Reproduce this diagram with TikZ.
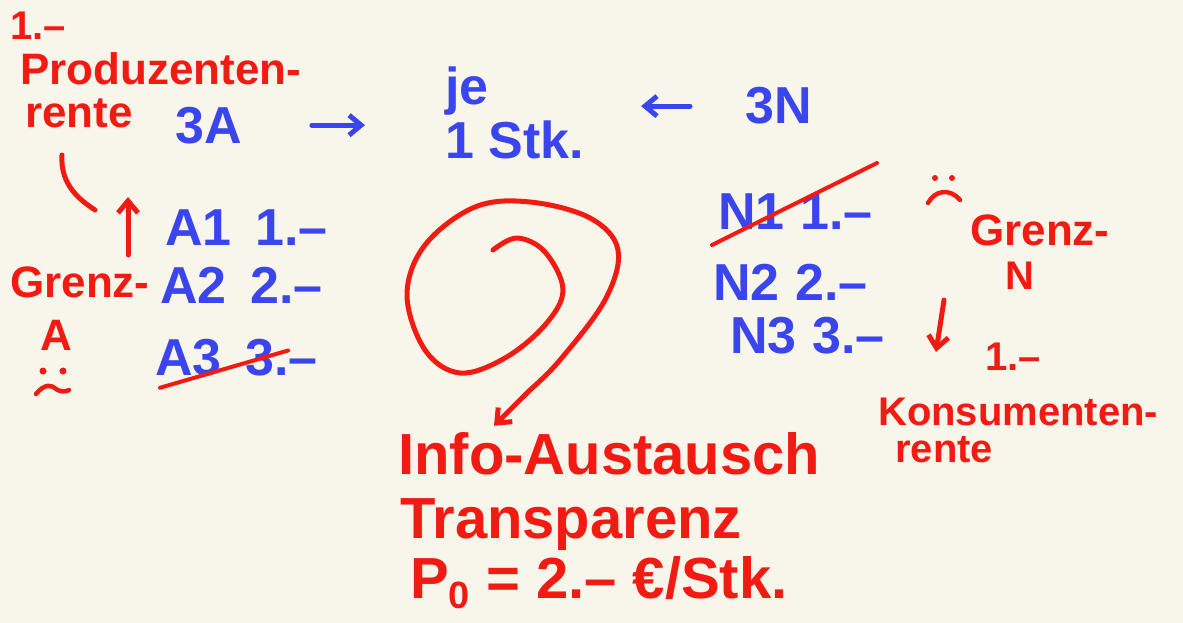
\documentclass[tikz,border=0pt]{standalone}
\usepackage{fontspec}
\setmainfont{Liberation Sans}
\usetikzlibrary{arrows.meta,calc}
\definecolor{bg}{HTML}{F8F5EA}
\definecolor{pen}{HTML}{3A45EE}
\definecolor{ink}{HTML}{F21B14}
\begin{document}
\begin{tikzpicture}[x=1pt,y=-1pt,
  redtxt/.style={text=ink, font=\bfseries\fontsize{44}{46}\selectfont, inner sep=0pt, anchor=base west},
  bigred/.style={redtxt, font=\bfseries\fontsize{58}{60}\selectfont},
  bluetxt/.style={text=pen, font=\bfseries\fontsize{52}{54}\selectfont, inner sep=0pt, anchor=base west},
  redline/.style={draw=ink, line width=5pt, line cap=round, line join=round},
  blueline/.style={draw=pen, line width=5pt, line cap=round, line join=round},
  tip/.style={-{Straight Barb[length=12pt,width=20pt,line width=5pt]}}]
\fill[bg] (0,0) rectangle (1183,623);
\useasboundingbox (0,0) rectangle (1183,623);

% producer side
\node[redtxt, font=\bfseries\fontsize{40}{42}\selectfont] (pone) at (10,40) {1.–};
\node[redtxt] (prod) at (20,85) {Produzenten-};
\node[redtxt] (prente) at (25,128) {rente};
\node[bluetxt] (threeA) at (175,143) {3A};
\node[bluetxt] (je) at (445,105) {je};
\node[bluetxt] (stk) at (445,158) {1 Stk.};
\node[bluetxt] (threeN) at (745,124) {3N};

\draw[blueline, tip, shorten <=70pt, shorten >=80pt] (threeA.east) -- (threeA.east -| je.west);
\draw[blueline, tip, shorten <=55pt, shorten >=57pt] (threeN.west) -- (threeN.west -| stk.east);

% A rows
\node[bluetxt] (a1) at (165,245) {A1\hspace{24pt}1.–};
\node[bluetxt] (a2) at (160,303) {A2\hspace{24pt}2.–};
\node[bluetxt] (a3) at (155,375) {A3\hspace{24pt}3.–};
\draw[redline, line width=4pt] ($(a3.south west)+(5,12)$) -- ($(a3.north east)+(-30,12)$);

\node[redtxt] (grenzA) at (10,297) {Grenz-};
\node[redtxt] (gA) at (40,350) {A};
\coordinate (upS) at (128,255);
\coordinate (upE) at (128,197);
\draw[redline, tip] (upS) -- (upE);
\draw[redline] (62,155) .. controls (60,185) and (80,200) .. (95,210);
% sad face left
\fill[ink] (43,371) circle (3.5pt) (63,371) circle (3.5pt);
\draw[redline, line width=4.5pt] (36,394) .. controls (45,383) and (52,385) .. (56,389) .. controls (60,392) and (66,392) .. (69,390);

% N rows
\node[bluetxt] (n1) at (718,229) {N1\hspace{16pt}1.–};
\node[bluetxt] (n2) at (713,300) {N2\hspace{16pt}2.–};
\node[bluetxt] (n3) at (730,353) {N3\hspace{16pt}3.–};
\draw[redline, line width=4pt] (712,245) -- (877,163);
\coordinate (dnS) at (944,300);
\coordinate (dnE) at (936,352);
\draw[redline, tip] (dnS) -- (dnE);
% sad face right
\fill[ink] (935,178) circle (3pt) (952,178) circle (3pt);
\draw[redline, line width=4.5pt] (928,203) .. controls (935,190) and (950,188) .. (960,200);
\node[redtxt] (grenzN) at (970,245) {Grenz-};
\node[redtxt, font=\bfseries\fontsize{40}{42}\selectfont] (gN) at (1005,289) {N};
\node[redtxt, font=\bfseries\fontsize{40}{42}\selectfont] (kone) at (985,370) {1.–};
\node[redtxt, font=\bfseries\fontsize{40}{42}\selectfont] (kons) at (878,425) {Konsumenten-};
\node[redtxt, font=\bfseries\fontsize{40}{42}\selectfont] (krente) at (895,462) {rente};

% spiral
\node[bigred] (info) at (398,474) {Info-Austausch};
\node[bigred] (trans) at (400,538) {Transparenz};
\node[bigred] (price) at (410,598) {P\raisebox{-0.18em}{\fontsize{38}{38}\selectfont 0} = 2.– €/Stk.};
\coordinate (spiralEnd) at ($(info.north west)+(96,-6)$);
\draw[redline, tip] plot[smooth, tension=0.6] coordinates {(493,250) (517,238) (545,252) (563,290) (545,325) (505,358) (460,373) (425,350) (407,295) (425,245) (475,207) (530,202) (590,218) (618,250) (605,300) (560,360) (530,390)} -- (spiralEnd);
\end{tikzpicture}
\end{document}
